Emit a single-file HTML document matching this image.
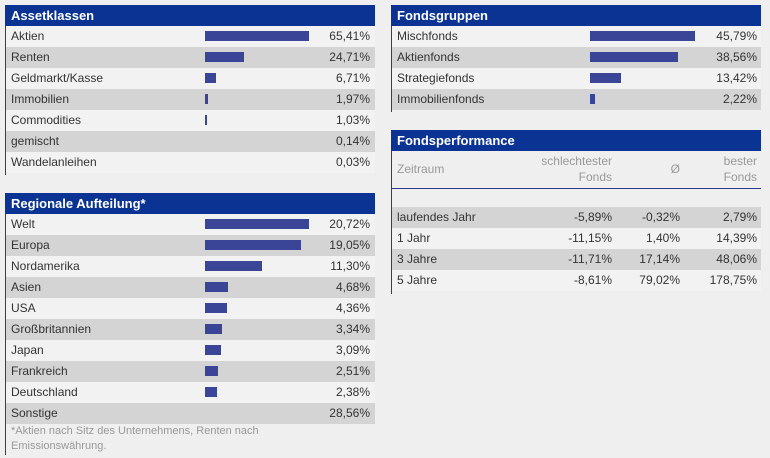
<!DOCTYPE html>
<html><head><meta charset="utf-8"><style>
body{margin:0;width:770px;height:458px;background:#efefef;font-family:"Liberation Sans",Arial,sans-serif;font-size:12px;color:#333;position:relative;overflow:hidden}
.abs{position:absolute}
.hdr{position:absolute;background:#0a3394;color:#fff;font-weight:bold;font-size:13px;line-height:21px;padding-left:6px;box-sizing:border-box;height:21px}
.row{position:absolute;height:21px;line-height:21px;box-sizing:border-box}
.lbl{position:absolute;left:6px;top:0}
.val{position:absolute;top:0;text-align:right}
.bar{position:absolute;top:5px;height:10px;background:#3b4597}
.edge{position:absolute;width:1px;background:#2a3a8c}
</style></head><body>
<div id="root"></div>
<script>
const assetLabels=["Aktien","Renten","Geldmarkt/Kasse","Immobilien","Commodities","gemischt","Wandelanleihen"];
const assetValues=[65.41,24.71,6.71,1.97,1.03,0.14,0.03];
const regionLabels=["Welt","Europa","Nordamerika","Asien","USA","Großbritannien","Japan","Frankreich","Deutschland","Sonstige"];
const regionValues=[20.72,19.05,11.30,4.68,4.36,3.34,3.09,2.51,2.38,28.56];
const regionHasBar=[1,1,1,1,1,1,1,1,1,0];
const groupLabels=["Mischfonds","Aktienfonds","Strategiefonds","Immobilienfonds"];
const groupValues=[45.79,38.56,13.42,2.22];
const perfPeriods=["laufendes Jahr","1 Jahr","3 Jahre","5 Jahre"];
const perfWorst=[-5.89,-11.15,-11.71,-8.61];
const perfAvg=[-0.32,1.40,17.14,79.02];
const perfBest=[2.79,14.39,48.06,178.75];

const root=document.getElementById('root');
function fmt(v){return v.toFixed(2).replace('.',',')+'%';}
function el(cls,style,text){const d=document.createElement('div');d.className=cls;Object.assign(d.style,style);if(text!==undefined)d.textContent=text;root.appendChild(d);return d;}

function barTable(title,name,x,y,w,labels,values,hasBar,barX,barMax,valRight){
  const h=el('hdr',{left:x+'px',top:y+'px',width:w+'px'},title);
  
  
  const bv=values.filter((v,i)=>!hasBar||hasBar[i]);
  const maxV=Math.max(...bv);
  const sx=v=>v/maxV*barMax;
  labels.forEach((l,i)=>{
    const r=el('row',{left:x+'px',top:(y+21+i*21)+'px',width:w+'px',background:i%2?'#d4d4d4':'#f2f2f2'});
    
    
    const lb=document.createElement('div');lb.className='lbl';lb.textContent=l;r.appendChild(lb);
    if(!hasBar||hasBar[i]){
      const bw=Math.round(sx(values[i]));
      if(bw>=1){const b=document.createElement('div');b.className='bar';b.style.left=(barX-x)+'px';b.style.width=Math.max(bw,2)+'px';
      
      
      r.appendChild(b);}
    }
    const v=document.createElement('div');v.className='val';v.style.right=(x+w-valRight)+'px';v.textContent=fmt(values[i]);r.appendChild(v);
  });
  const e=el('edge',{left:x+'px',top:(y+21)+'px',height:(labels.length*21+2)+'px'});
  
  
}
barTable('Assetklassen','asset-classes',5,5,370,assetLabels,assetValues,null,205,104,370);
barTable('Regionale Aufteilung*','regional',5,193,370,regionLabels,regionValues,regionHasBar,205,104,370);
const fn=el('abs',{left:'11px',top:'424px',width:'330px',fontSize:'11px',lineHeight:'15px',color:'#999'},'*Aktien nach Sitz des Unternehmens, Renten nach Emissionswährung.');


el('edge',{left:'5px',top:'423px',height:'32px'});
barTable('Fondsgruppen','fund-groups',391,5,370,groupLabels,groupValues,null,590,105,757);

// performance
const ph=el('hdr',{left:'391px',top:'130px',width:'370px'},'Fondsperformance');


const cols=[{t:'Zeitraum',r:null},{t:'schlechtester\nFonds',r:612},{t:'Ø',r:680},{t:'bester\nFonds',r:757}];
const hz=el('abs',{left:'391px',top:'151px',width:'370px',height:'37px',borderBottom:'1px solid #2a3a8c',color:'#999'});


cols.forEach((c,i)=>{
  const d=document.createElement('div');d.style.position='absolute';d.style.whiteSpace='pre';d.style.lineHeight='16px';
  if(c.r===null){d.style.left='6px';d.style.top='10px';}
  else{d.style.right=(761-c.r)+'px';d.style.textAlign='right';d.style.top=(i===2?'10px':'2px');}
  d.textContent=c.t;
  
  
  hz.appendChild(d);
});
perfPeriods.forEach((p,i)=>{
  const r=el('row',{left:'391px',top:(207+i*21)+'px',width:'370px',background:i%2?'#f2f2f2':'#d4d4d4'});
  
  
  const lb=document.createElement('div');lb.className='lbl';lb.textContent=p;r.appendChild(lb);
  [[perfWorst[i],612],[perfAvg[i],680],[perfBest[i],757]].forEach(([v,rr])=>{
    const d=document.createElement('div');d.className='val';d.style.right=(761-rr)+'px';d.textContent=fmt(v);r.appendChild(d);
  });
});
el('edge',{left:'391px',top:'151px',height:'143px'});
</script>
</body></html>
